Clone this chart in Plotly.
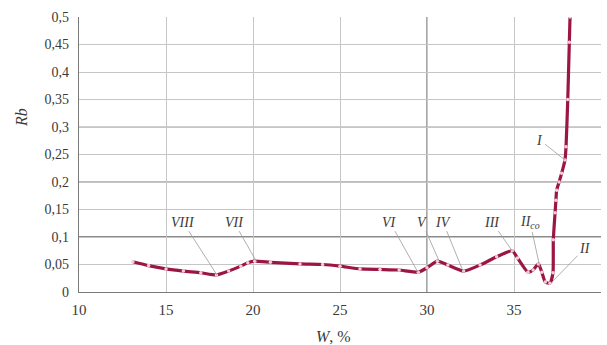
import plotly.graph_objects as go

# Moisture content W (%) and resistance Rb along the measured curve
w_pct = [13.1, 14.0, 15.0, 16.0, 17.0, 17.9, 18.6, 19.3, 19.7, 20.1, 21.0, 22.7,
         24.0, 25.0, 26.15, 27.3, 28.4, 29.5, 30.0, 30.6, 31.2, 32.1, 33.05, 34.0,
         34.9, 35.2, 35.8, 36.1, 36.4, 36.6, 36.8, 37.07, 37.24, 37.26, 37.36,
         37.41, 37.45, 37.59, 37.74, 37.93, 37.99, 38.09, 38.18, 38.22]
rb = [0.055, 0.048, 0.042, 0.038, 0.035, 0.031, 0.038, 0.047, 0.053, 0.056, 0.054,
      0.051, 0.050, 0.047, 0.042, 0.041, 0.040, 0.036, 0.044, 0.056, 0.049, 0.038,
      0.049, 0.064, 0.075, 0.062, 0.036, 0.040, 0.051, 0.036, 0.018, 0.016, 0.035,
      0.095, 0.144, 0.167, 0.185, 0.200, 0.216, 0.240, 0.264, 0.350, 0.454, 0.500]

# Stage labels: text, point on the curve, label position
stage_text = ["VIII", "VII", "VI", "V", "IV", "III", "II<sub>co</sub>", "II", "I"]
stage_w = [17.93, 20.17, 29.48, 30.7, 32.07, 34.89, 36.49, 37.18, 37.93]
stage_rb = [0.031, 0.057, 0.036, 0.056, 0.038, 0.075, 0.045, 0.018, 0.240]
label_w = [15.98, 18.91, 27.87, 29.71, 30.92, 33.74, 35.92, 39.08, 36.49]
label_rb = [0.127, 0.127, 0.127, 0.127, 0.127, 0.127, 0.127, 0.080, 0.276]

x_ticks = [10, 15, 20, 25, 30, 35, 40]
y_ticks = [0, 0.05, 0.1, 0.15, 0.2, 0.25, 0.3, 0.35, 0.4, 0.45, 0.5]
y_tick_text = ["0", "0,05", "0,1", "0,15", "0,2", "0,25", "0,3", "0,35", "0,4", "0,45", "0,5"]

SERIF = "Liberation Serif"
CURVE = "#9c1644"
TEXT = "#3a3a3a"

fig = go.Figure()
fig.add_trace(go.Scatter(
    x=w_pct, y=rb, mode="lines+markers",
    line=dict(color=CURVE, width=3.2, shape="spline", smoothing=0.5),
    marker=dict(size=3.5, color="#f4cdd9"),
    hoverinfo="skip", showlegend=False,
))

# heavier reference gridlines
for yv, col, wd in [(0.1, "#8a8a8a", 2), (0.2, "#7a7a7a", 1.2), (0.3, "#cfcfcf", 2)]:
    fig.add_shape(type="line", xref="x", yref="y", x0=10, x1=40, y0=yv, y1=yv,
                  line=dict(color=col, width=wd), layer="below")
fig.add_shape(type="line", xref="x", yref="y", x0=30, x1=30, y0=0, y1=0.5,
              line=dict(color="#6e6e6e", width=1.2), layer="below")

annotations = []
for t, px, py, lx, ly in zip(stage_text, stage_w, stage_rb, label_w, label_rb):
    annotations.append(dict(
        x=px, y=py, ax=lx, ay=ly, xref="x", yref="y", axref="x", ayref="y",
        text="<i>" + t + "</i>", showarrow=True, arrowhead=0, arrowwidth=0.8,
        arrowcolor="#9a9a9a", standoff=0, startstandoff=0,
        font=dict(family=SERIF, size=14, color=TEXT),
    ))
annotations.append(dict(
    x=-0.109, y=0.633, xref="paper", yref="paper", text="<i>Rb</i>",
    xanchor="center", yanchor="middle",
    textangle=-90, showarrow=False, font=dict(family=SERIF, size=16, color=TEXT),
))
annotations.append(dict(
    x=0.488, y=-0.16, xref="paper", yref="paper", text="<i>W</i>, %",
    xanchor="center", yanchor="middle",
    showarrow=False, font=dict(family=SERIF, size=16, color=TEXT),
))

fig.update_layout(
    width=607, height=345,
    margin=dict(l=79, r=6, t=17, b=53),
    paper_bgcolor="white", plot_bgcolor="white",
    annotations=annotations,
    xaxis=dict(
        range=[10, 40], tickvals=x_ticks, ticktext=[str(v) for v in x_ticks],
        showgrid=True, gridcolor="#c6c6c6", gridwidth=1,
        showline=True, linecolor="#7a7a7a", linewidth=1.2,
        zeroline=False, ticks="", ticklabelstandoff=4,
        tickfont=dict(family=SERIF, size=15, color=TEXT),
    ),
    yaxis=dict(
        range=[0, 0.5], tickvals=y_ticks, ticktext=y_tick_text,
        showgrid=True, gridcolor="#c6c6c6", gridwidth=1,
        showline=True, linecolor="#7a7a7a", linewidth=1.2,
        zeroline=False, ticks="", ticklabelstandoff=6,
        tickfont=dict(family=SERIF, size=14, color=TEXT),
    ),
)

fig.write_html("out.html")
